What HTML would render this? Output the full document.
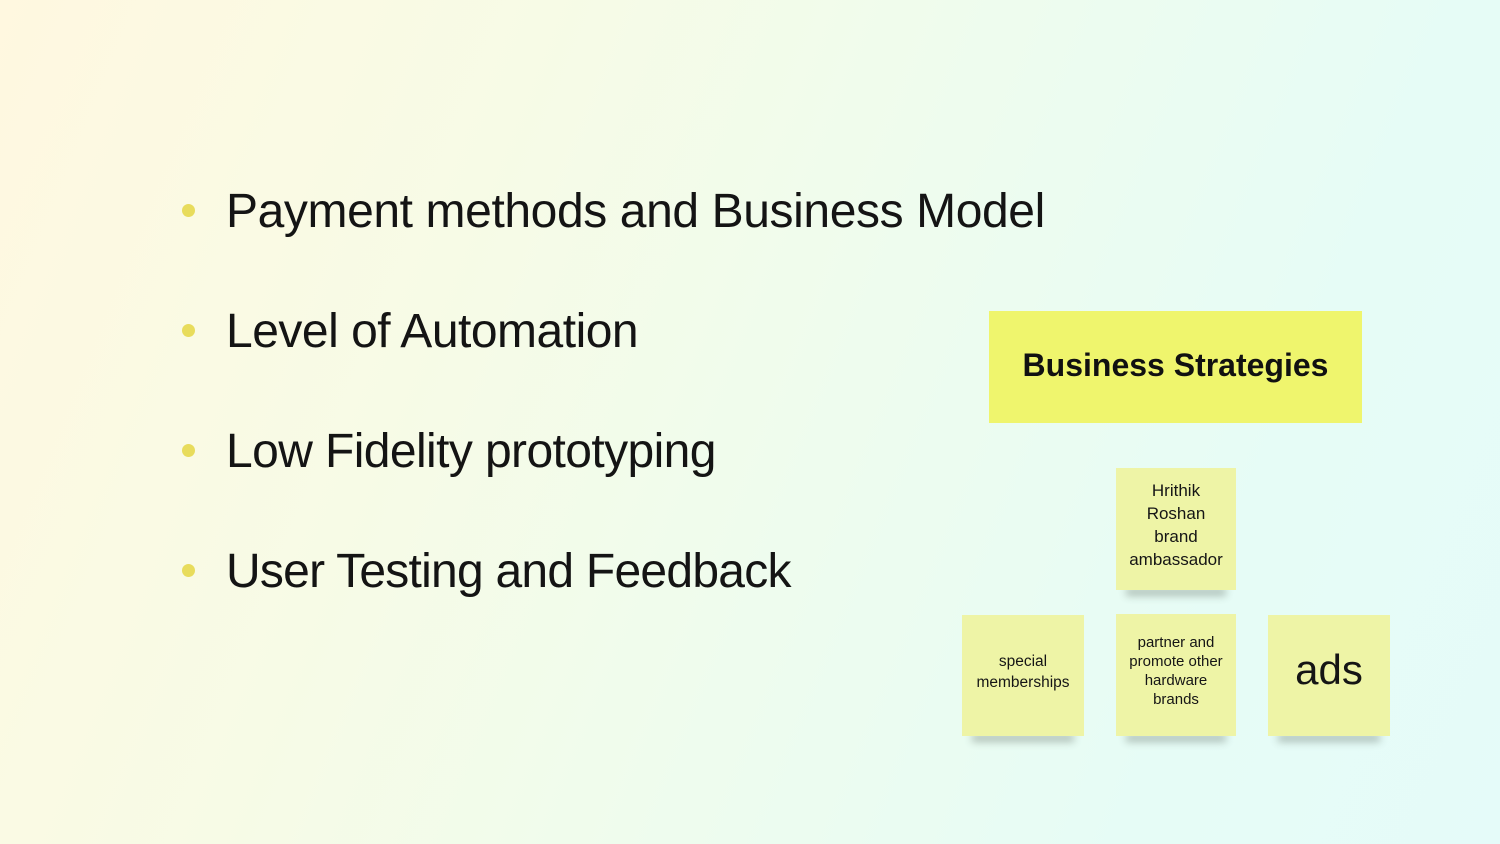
<!DOCTYPE html>
<html>
<head>
<meta charset="utf-8">
<style>
  html,body{margin:0;padding:0;}
  body{width:1500px;height:844px;overflow:hidden;position:relative;
    background:linear-gradient(112deg,#fff8e0 0%,#f7fbe6 30%,#eefcee 55%,#e6fcf6 80%,#e5fbf9 100%);
    font-family:"Liberation Sans",sans-serif;color:#111;}
  .li{position:absolute;left:226px;font-size:48px;line-height:48px;letter-spacing:-0.5px;white-space:nowrap;color:#141414;}
  .dot{position:absolute;width:13px;height:13px;border-radius:50%;background:#e8dc5c;left:182px;}
  .bs{position:absolute;left:989px;top:311px;width:373px;height:112px;background:#eff56d;}
  .bst{position:absolute;left:989px;width:373px;text-align:center;font-weight:bold;font-size:32px;line-height:32px;top:349px;white-space:nowrap;color:#111;}
  .st{position:absolute;width:121px;height:121px;background:#eef4a6;}
  .st::after{content:"";position:absolute;left:10px;right:10px;bottom:0;height:8px;
    box-shadow:0 6px 8px rgba(60,70,60,0.32);z-index:-1;}
  .t{position:absolute;width:100%;text-align:center;white-space:nowrap;color:#151515;left:0;}
</style>
</head>
<body>
  <div class="dot" style="top:204px"></div>
  <div class="dot" style="top:324px"></div>
  <div class="dot" style="top:444px"></div>
  <div class="dot" style="top:564px"></div>
  <div class="li" style="top:188px;letter-spacing:-0.4px">Payment methods and Business Model</div>
  <div class="li" style="top:308px">Level of Automation</div>
  <div class="li" style="top:428px;letter-spacing:-0.6px">Low Fidelity prototyping</div>
  <div class="li" style="top:548px;letter-spacing:-0.75px">User Testing and Feedback</div>

  <div class="bs"></div>
  <div class="bst">Business Strategies</div>

  <div class="st" style="left:1116px;top:468px;width:120px;height:122px;">
    <div class="t" style="top:11px;font-size:17px;line-height:23px;">Hrithik<br>Roshan<br>brand<br>ambassador</div>
  </div>
  <div class="st" style="left:962px;top:615px;width:122px;height:121px;">
    <div class="t" style="top:36px;font-size:15.5px;line-height:21px;">special<br>memberships</div>
  </div>
  <div class="st" style="left:1116px;top:614px;width:120px;height:122px;">
    <div class="t" style="top:19px;font-size:15px;line-height:19px;">partner and<br>promote other<br>hardware<br>brands</div>
  </div>
  <div class="st" style="left:1268px;top:615px;width:122px;height:121px;">
    <div class="t" style="top:31px;font-size:42px;line-height:48px;">ads</div>
  </div>
</body>
</html>
